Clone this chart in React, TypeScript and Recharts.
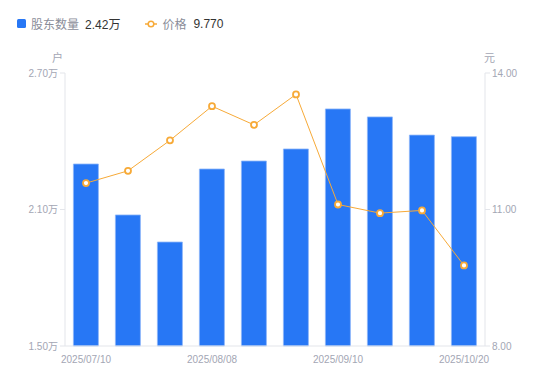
import React from "react";
import { ComposedChart, Bar, Line, XAxis, YAxis } from "recharts";

const dates = [
  "2025/07/10",
  "2025/07/18",
  "2025/07/31",
  "2025/08/08",
  "2025/08/15",
  "2025/08/29",
  "2025/09/10",
  "2025/09/19",
  "2025/09/30",
  "2025/10/20",
];
// 股东数量 (万户)
const holders = [2.3, 2.076, 1.957, 2.278, 2.313, 2.366, 2.542, 2.507, 2.427, 2.42];
// 价格 (元)
const prices = [11.58, 11.85, 12.52, 13.27, 12.86, 13.53, 11.11, 10.92, 10.98, 9.77];

const leftTicks = [1.5, 2.1, 2.7];
const rightTicks = [8, 11, 14];

const BLUE = "#2777F5";
const ORANGE = "#F7AA38";
const GRAY = "#A3A6B4";
const AXIS = "#E3E5EA";
const FONT = "Arial, 'Liberation Sans', 'Noto Sans CJK SC', sans-serif";

const data = dates.map((d, i) => ({ date: d, holders: holders[i], price: prices[i] }));

export default function App() {
  return (
    <div
      style={{
        position: "absolute",
        left: 0,
        top: 0,
        width: 550,
        height: 381,
        background: "#fff",
        fontFamily: FONT,
      }}
    >
      <div
        style={{
          position: "absolute",
          left: 17,
          top: 15,
          fontSize: 12,
          display: "flex",
          alignItems: "center",
          whiteSpace: "nowrap",
        }}
      >
        <span style={{ width: 9, height: 9, background: BLUE, borderRadius: 1.5, display: "inline-block" }} />
        <span style={{ color: "#8A8D99", marginLeft: 5 }}>股东数量</span>
        <span style={{ color: "#333", marginLeft: 6 }}>{holders[holders.length - 1].toFixed(2)}万</span>
        <svg width={12} height={10} style={{ marginLeft: 25 }}>
          <line x1={0} y1={5} x2={12} y2={5} stroke={ORANGE} strokeWidth={1.5} />
          <circle cx={6} cy={5} r={2.8} fill="#fff" stroke={ORANGE} strokeWidth={1.5} />
        </svg>
        <span style={{ color: "#8A8D99", marginLeft: 5 }}>价格</span>
        <span style={{ color: "#333", marginLeft: 7 }}>{prices[prices.length - 1].toFixed(3)}</span>
      </div>
      <div style={{ position: "absolute", left: 52, top: 49, fontSize: 11, color: GRAY }}>户</div>
      <div style={{ position: "absolute", left: 484, top: 49, fontSize: 11, color: GRAY }}>元</div>
      <ComposedChart
        width={550}
        height={381}
        data={data}
        margin={{ top: 73, right: 0, bottom: 0, left: 0 }}
        barCategoryGap="20%"
      >
        <XAxis
          dataKey="date"
          interval={2}
          tickLine={false}
          axisLine={{ stroke: AXIS }}
          tick={{ fontSize: 10, fill: GRAY, fontFamily: FONT }}
          height={35}
          tickMargin={4}
        />
        <YAxis
          yAxisId="left"
          orientation="left"
          width={65}
          domain={[1.5, 2.7]}
          ticks={leftTicks}
          tickFormatter={(v: number) => v.toFixed(2) + "万"}
          axisLine={{ stroke: AXIS }}
          tickLine={{ stroke: AXIS }}
          tickSize={5}
          tickMargin={2}
          tick={{ fontSize: 10, fill: GRAY, fontFamily: FONT }}
        />
        <YAxis
          yAxisId="right"
          orientation="right"
          width={65}
          domain={[8, 14]}
          ticks={rightTicks}
          tickFormatter={(v: number) => v.toFixed(2)}
          axisLine={{ stroke: AXIS }}
          tickLine={{ stroke: AXIS }}
          tickSize={5}
          tickMargin={2}
          tick={{ fontSize: 10, fill: GRAY, fontFamily: FONT }}
        />
        <Bar
          yAxisId="left"
          dataKey="holders"
          fill={BLUE}
          stroke="#8DB6F9"
          strokeWidth={0.8}
          isAnimationActive={false}
        />
        <Line
          yAxisId="right"
          dataKey="price"
          type="linear"
          stroke={ORANGE}
          strokeWidth={1}
          dot={{ r: 3, fill: "#fff", stroke: ORANGE, strokeWidth: 1.8 }}
          activeDot={false}
          isAnimationActive={false}
        />
      </ComposedChart>
    </div>
  );
}
